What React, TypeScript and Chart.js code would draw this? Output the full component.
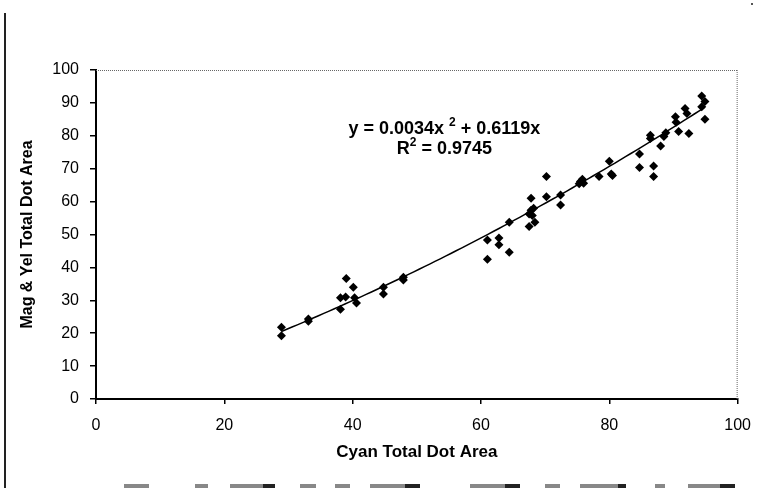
import React, { useEffect, useRef } from "react";
import { Chart, registerables } from "chart.js";

Chart.register(...registerables);

// Cyan total dot area (x) and Magenta & Yellow total dot area (y)
const cyanArea = [
  28.9, 28.9, 33.1, 33.1, 38.1, 39.0, 40.1, 38.1, 38.9, 40.3,
  40.6, 44.8, 44.8, 47.9, 47.9, 61.0, 61.0, 62.8, 62.8, 64.4,
  64.4, 67.5, 68.4, 67.8, 67.8, 67.5, 68.2, 68.0, 70.2, 70.2,
  72.4, 72.4, 75.5, 75.8, 75.3, 76.0, 78.4, 80.3, 80.0, 80.5,
  84.7, 84.7, 86.9, 86.9, 86.4, 86.4, 88.0, 88.5, 88.8, 90.3,
  90.4, 90.8, 91.8, 92.1, 92.4, 94.4, 94.9, 94.4, 94.9,
];
const magYelArea = [
  21.8, 19.2, 24.3, 23.6, 27.3, 36.6, 34.0, 30.8, 31.0, 30.8,
  29.2, 34.0, 31.9, 37.0, 36.2, 48.3, 42.5, 48.9, 46.9, 44.6,
  53.7, 52.4, 53.7, 61.0, 57.4, 56.2, 58.0, 55.8, 61.5, 67.6,
  62.0, 59.0, 66.1, 66.8, 65.4, 65.6, 67.6, 68.4, 72.3, 67.9,
  74.5, 70.4, 70.8, 67.6, 80.2, 79.2, 76.9, 79.8, 80.9, 85.8,
  84.1, 81.3, 88.3, 86.8, 80.7, 92.1, 90.4, 88.8, 85.0,
];

// Polynomial trendline shown on the chart
const trendA = 0.0034;
const trendB = 0.6119;
const trendFrom = 28.9;
const trendTo = 94.9;
const eqMain = "y = 0.0034x ";
const eqSup = "2";
const eqTail = " + 0.6119x";
const r2Main = "R";
const r2Tail = " = 0.9745";

const xTitle = "Cyan Total Dot Area";
const yTitle = "Mag & Yel Total Dot Area";
const xMin = 0, xMax = 100, xStep = 20;
const yMin = 0, yMax = 100, yStep = 10;

const FONT = "'Liberation Sans', Arial, Helvetica, sans-serif";

export default function App() {
  const ref = useRef<HTMLCanvasElement | null>(null);

  useEffect(() => {
    document.body.style.margin = "0";
    const canvas = ref.current;
    if (!canvas) return;

    const points = cyanArea.map((x, i) => ({ x, y: magYelArea[i] }));
    const trend: { x: number; y: number }[] = [];
    const n = 80;
    for (let i = 0; i <= n; i++) {
      const x = trendFrom + ((trendTo - trendFrom) * i) / n;
      trend.push({ x, y: trendA * x * x + trendB * x });
    }

    const deco = {
      id: "deco",
      beforeDatasetsDraw(chart: any) {
        const { ctx, chartArea: a } = chart;
        ctx.save();
        ctx.strokeStyle = "#666";
        ctx.lineWidth = 1;
        ctx.setLineDash([1, 1]);
        ctx.beginPath();
        ctx.moveTo(a.left, a.top + 0.5);
        ctx.lineTo(a.right, a.top + 0.5);
        ctx.moveTo(a.right - 0.5, a.top);
        ctx.lineTo(a.right - 0.5, a.bottom);
        ctx.stroke();
        ctx.restore();
      },
      afterDraw(chart: any) {
        const { ctx, scales } = chart;
        ctx.save();
        // scan frame line on the left
        ctx.strokeStyle = "#222";
        ctx.lineWidth = 2;
        ctx.beginPath();
        ctx.moveTo(5, 13);
        ctx.lineTo(5, 488);
        ctx.stroke();
        // speck top right
        ctx.fillStyle = "#555";
        ctx.fillRect(751, 3, 2, 2);
        // scan artefacts at the bottom
        const bars: [number, number, string][] = [
          [124, 149, "#888"], [195, 208, "#888"], [230, 263, "#888"], [263, 275, "#222"],
          [300, 316, "#888"], [335, 350, "#888"], [370, 405, "#888"], [405, 420, "#222"],
          [470, 505, "#888"], [505, 520, "#222"], [545, 560, "#888"], [580, 618, "#888"],
          [618, 626, "#222"], [655, 665, "#888"], [688, 720, "#888"], [720, 735, "#222"],
        ];
        for (const [x0, x1, c] of bars) {
          ctx.fillStyle = c;
          ctx.fillRect(x0, 484, x1 - x0, 4);
        }
        // trendline equation
        const cx = scales.x.getPixelForValue(54.3);
        const y1 = scales.y.getPixelForValue(82.1);
        const y2 = scales.y.getPixelForValue(76.0);
        const big = `bold 18px ${FONT}`;
        const small = `bold 12px ${FONT}`;
        ctx.fillStyle = "#000";
        ctx.textBaseline = "middle";
        ctx.textAlign = "left";
        const drawParts = (parts: [string, boolean][], y: number) => {
          let w = 0;
          for (const [t, sup] of parts) {
            ctx.font = sup ? small : big;
            w += ctx.measureText(t).width;
          }
          let x = cx - w / 2;
          for (const [t, sup] of parts) {
            ctx.font = sup ? small : big;
            ctx.fillText(t, x, sup ? y - 6 : y);
            x += ctx.measureText(t).width;
          }
        };
        drawParts([[eqMain, false], [eqSup, true], [eqTail, false]], y1);
        drawParts([[r2Main, false], [eqSup, true], [r2Tail, false]], y2);
        ctx.restore();
      },
    };

    const chart = new Chart(canvas, {
      type: "scatter",
      data: {
        datasets: [
          {
            type: "line",
            data: trend,
            borderColor: "#000",
            borderWidth: 1.5,
            pointRadius: 0,
            fill: false,
            tension: 0,
            order: 2,
          } as any,
          {
            data: points,
            backgroundColor: "#000",
            borderColor: "#000",
            borderWidth: 0,
            pointStyle: "rectRot",
            pointRadius: 4.5,
            order: 1,
          },
        ],
      },
      options: {
        animation: false,
        responsive: false,
        devicePixelRatio: 1,
        layout: { padding: { left: 0, top: 70, right: 24, bottom: 0 } },
        plugins: { legend: { display: false }, tooltip: { enabled: false } },
        scales: {
          x: {
            type: "linear",
            min: xMin,
            max: xMax,
            afterFit: (s: any) => { s.height = 89; },
            ticks: {
              stepSize: xStep,
              color: "#000",
              font: { family: FONT, size: 16 },
              padding: 12,
              maxRotation: 0,
            },
            grid: { drawOnChartArea: false, color: "#000", tickLength: 5, lineWidth: 1.5 },
            border: { color: "#000", width: 2 },
            title: {
              display: true,
              text: xTitle,
              color: "#000",
              font: { family: FONT, size: 17, weight: "bold" },
              padding: { top: 0, bottom: 25 },
            },
          },
          y: {
            type: "linear",
            min: yMin,
            max: yMax,
            afterFit: (s: any) => { s.width = 96; },
            ticks: {
              stepSize: yStep,
              color: "#000",
              font: { family: FONT, size: 16 },
              padding: 11,
            },
            grid: { drawOnChartArea: false, color: "#000", tickLength: 6, lineWidth: 1.5 },
            border: { color: "#000", width: 2 },
            title: {
              display: true,
              text: yTitle,
              color: "#000",
              font: { family: FONT, size: 16, weight: "bold" },
              padding: { top: 18, bottom: 0 },
            },
          },
        },
      },
      plugins: [deco],
    });

    return () => chart.destroy();
  }, []);

  return (
    <div style={{ width: 763, height: 488, background: "#fff" }}>
      <canvas ref={ref} width={763} height={488} style={{ display: "block" }} />
    </div>
  );
}
